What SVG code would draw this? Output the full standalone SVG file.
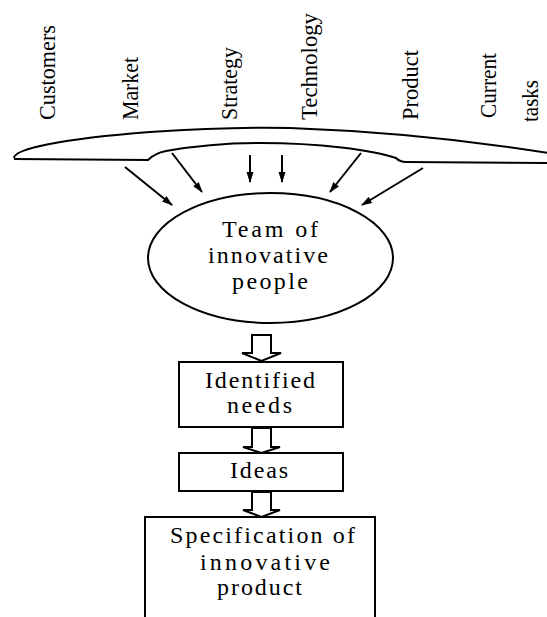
<svg xmlns="http://www.w3.org/2000/svg" width="547" height="617" viewBox="0 0 547 617">
<style>
.lbl{font-family:"Liberation Serif","Times New Roman",serif;font-size:24px;fill:#000}
.txt{font-family:"Liberation Serif","Times New Roman",serif;font-size:24px;fill:#000}
.ln{fill:none;stroke:#000;stroke-width:2}
.arr{fill:none;stroke:#000;stroke-width:2}
.blk{fill:#fff;stroke:#000;stroke-width:2;stroke-linejoin:miter}
</style>
<defs>
<marker id="ah" viewBox="0 0 10 10" refX="9" refY="5" markerWidth="11" markerHeight="11" orient="auto" markerUnits="userSpaceOnUse">
<path d="M0,1.8 L10,5 L0,8.2 Z" fill="#000"/>
</marker>
</defs>
<rect width="547" height="617" fill="#fff"/>
<g id="labels">
<text class="lbl" transform="translate(55,120) rotate(-90)" textLength="95" lengthAdjust="spacingAndGlyphs">Customers</text>
<text class="lbl" transform="translate(138,120) rotate(-90)" textLength="63" lengthAdjust="spacingAndGlyphs">Market</text>
<text class="lbl" transform="translate(237,120) rotate(-90)" textLength="73" lengthAdjust="spacingAndGlyphs">Strategy</text>
<text class="lbl" transform="translate(317,120) rotate(-90)" textLength="107" lengthAdjust="spacingAndGlyphs">Technology</text>
<text class="lbl" transform="translate(418,120) rotate(-90)" textLength="70" lengthAdjust="spacingAndGlyphs">Product</text>
<text class="lbl" transform="translate(496,118) rotate(-90)" textLength="65" lengthAdjust="spacingAndGlyphs">Current</text>
<text class="lbl" transform="translate(538,122) rotate(-90)" textLength="42" lengthAdjust="spacingAndGlyphs">tasks</text>
</g>
<g id="bracket">
<path class="ln" d="M14,158 C14,149 60,139 150,132 C210,128 250,127 290,128 C400,132 480,142 548,153"/>
<path class="ln" d="M14,159 L148,160 C152,156 156,153 166,151 C200,145 230,143 260,143 C320,143 372,150 396,158 C399,161 402,162 406,162 L548,163"/>
</g>
<g id="team">
<ellipse cx="270.5" cy="258" rx="122.5" ry="65" class="ln"/>
<text class="txt" x="222" y="237" textLength="96">Team of</text>
<text class="txt" x="208" y="263" textLength="120">innovative</text>
<text class="txt" x="232" y="289" textLength="76">people</text>
</g>
<g id="needs">
<rect x="179" y="362" width="164" height="65" class="ln"/>
<text class="txt" x="205" y="388" textLength="110">Identified</text>
<text class="txt" x="227" y="413" textLength="65">needs</text>
</g>
<g id="ideas">
<rect x="179" y="453" width="164" height="38" class="ln"/>
<text class="txt" x="230" y="478" textLength="58">Ideas</text>
</g>
<g id="spec">
<path class="ln" d="M145,620 L145,517 L375,517 L375,620"/>
<text class="txt" x="170" y="543" textLength="185">Specification of</text>
<text class="txt" x="200" y="570" textLength="130">innovative</text>
<text class="txt" x="217" y="595" textLength="85">product</text>
</g>
<g id="connectors">
<line class="arr" x1="125" y1="167" x2="172" y2="205" marker-end="url(#ah)"/>
<line class="arr" x1="172" y1="153" x2="202" y2="192" marker-end="url(#ah)"/>
<line class="arr" x1="250" y1="155" x2="250" y2="182" marker-end="url(#ah)"/>
<line class="arr" x1="282" y1="155" x2="282" y2="182" marker-end="url(#ah)"/>
<line class="arr" x1="361" y1="153" x2="330" y2="192" marker-end="url(#ah)"/>
<line class="arr" x1="423" y1="168" x2="362" y2="205" marker-end="url(#ah)"/>
<path class="blk" d="M252,335 L271,335 L271,353 L281,353 L261.5,361 L242,353 L252,353 Z"/>
<path class="blk" d="M252,428 L271,428 L271,447 L280,447 L261.5,453 L243,447 L252,447 Z"/>
<path class="blk" d="M252,492 L271,492 L271,510 L280,510 L261.5,517 L243,510 L252,510 Z"/>
</g>
</svg>
